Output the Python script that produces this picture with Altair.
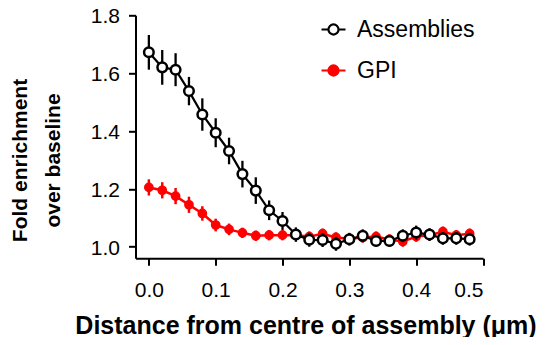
import altair as alt
import pandas as pd

# ---- data ----
distance = [0.00, 0.02, 0.04, 0.06, 0.08, 0.10, 0.12, 0.14, 0.16, 0.18,
            0.20, 0.22, 0.24, 0.26, 0.28, 0.30, 0.32, 0.34, 0.36, 0.38,
            0.40, 0.42, 0.44, 0.46, 0.48]

asm_mean = [1.672, 1.620, 1.612, 1.538, 1.457, 1.394, 1.331, 1.251, 1.194, 1.126,
            1.089, 1.042, 1.024, 1.023, 1.010, 1.026, 1.038, 1.020, 1.020, 1.038,
            1.049, 1.042, 1.029, 1.029, 1.026]
asm_err = [0.060, 0.060, 0.057, 0.049, 0.056, 0.050, 0.046, 0.046, 0.046, 0.034,
           0.031, 0.025, 0.024, 0.024, 0.024, 0.022, 0.022, 0.020, 0.020, 0.022,
           0.024, 0.022, 0.022, 0.022, 0.022]

gpi_mean = [1.205, 1.195, 1.175, 1.145, 1.115, 1.075, 1.060, 1.048, 1.038, 1.040,
            1.040, 1.040, 1.035, 1.045, 1.032, 1.028, 1.032, 1.035, 1.025, 1.018,
            1.035, 1.040, 1.052, 1.040, 1.045]
gpi_err = [0.028, 0.028, 0.028, 0.028, 0.025, 0.022, 0.020, 0.018, 0.018, 0.018,
           0.018, 0.018, 0.018, 0.018, 0.018, 0.018, 0.018, 0.018, 0.018, 0.018,
           0.018, 0.018, 0.018, 0.018, 0.018]

series_names = ["Assemblies", "GPI"]
x_ticks = [0.0, 0.1, 0.2, 0.3, 0.4, 0.5]
y_ticks = [1.0, 1.2, 1.4, 1.6, 1.8]

rows = []
for name, means, errs in [("Assemblies", asm_mean, asm_err), ("GPI", gpi_mean, gpi_err)]:
    for d, m, e in zip(distance, means, errs):
        rows.append({"distance": d, "mean": m, "lo": m - e, "hi": m + e, "series": name})
df = pd.DataFrame(rows)

FONT = "Liberation Sans"

stroke_scale = alt.Scale(domain=series_names, range=["#000000", "#ff0000"])
fill_scale = alt.Scale(domain=series_names, range=["#ffffff", "#ff0000"])

SYMBOL = ("M-1,0L-0.42,0M0.42,0L1,0"
          "M0.42,0A0.42,0.42,0,1,1,-0.42,0A0.42,0.42,0,1,1,0.42,0Z")

legend = alt.Legend(
    title=None, orient="none", legendX=184.5, legendY=0.7, padding=0,
    symbolType=SYMBOL, symbolSize=576, symbolStrokeWidth=2.2, symbolOpacity=1,
    labelFont=FONT, labelFontSize=23, labelColor="#000000", labelOffset=10,
    rowPadding=15, labelLimit=300,
)

x_axis = alt.Axis(
    values=x_ticks, format=".1f", title="Distance from centre of assembly (μm)",
    titleFontSize=25, titleX=170, titleY=74.7, titleBaseline="alphabetic",
    titleAlign="center", labelPadding=14,
)
y_axis = alt.Axis(
    values=y_ticks, format=".1f", title=["Fold enrichment", "over baseline"],
    titleFontSize=21, titleLineHeight=33, titleAngle=-90, titleX=-108.8,
    titleY=144.7, titleBaseline="alphabetic", titleAlign="center", labelPadding=9,
    labelOffset=1.5,
)

x_scale = alt.Scale(domain=[-0.02, 0.5], nice=False, zero=False)
y_scale = alt.Scale(domain=[0.96, 1.8], nice=False, zero=False)


def enc_x():
    return alt.X("distance:Q", scale=x_scale, axis=x_axis)


def enc_y(field):
    return alt.Y(field, type="quantitative", scale=y_scale, axis=y_axis)


def stroke_enc():
    return alt.Stroke("series:N", scale=stroke_scale, legend=legend)


def fill_enc():
    return alt.Fill("series:N", scale=fill_scale, legend=legend)


def series_layers(name, point_size, point_sw, line_w, rule_w):
    base = alt.Chart(df).transform_filter(alt.datum.series == name)
    rules = base.mark_rule(strokeWidth=rule_w).encode(
        x=enc_x(), y=enc_y("lo"), y2="hi", stroke=stroke_enc()
    )
    line = base.mark_line(strokeWidth=line_w).encode(
        x=enc_x(), y=enc_y("mean"), stroke=stroke_enc()
    )
    pts = base.mark_point(shape="circle", filled=True, size=point_size,
                          strokeWidth=point_sw, opacity=1).encode(
        x=enc_x(), y=enc_y("mean"), stroke=stroke_enc(), fill=fill_enc()
    )
    return [rules, line, pts]


layers = (series_layers("GPI", 68, 1.5, 2.5, 2.5)
          + series_layers("Assemblies", 92, 2.5, 2.2, 2.3))

chart = alt.layer(*layers).properties(
    width=347.5, height=243,
    autosize=alt.AutoSizeParams(type="none"),
    padding={"left": 127.5, "top": 7.3, "right": 54, "bottom": 78.7},
).configure(
    background="#ffffff"
).configure_view(
    stroke=None
).configure_axis(
    grid=False, domainColor="#000000", domainWidth=2, tickColor="#000000",
    tickWidth=2, tickSize=7, labelFont=FONT, labelFontSize=21,
    labelColor="#000000", titleFont=FONT, titleFontWeight="bold",
    titleColor="#000000",
)

chart.save("out.html", embed_options={"renderer": "svg", "actions": False})
